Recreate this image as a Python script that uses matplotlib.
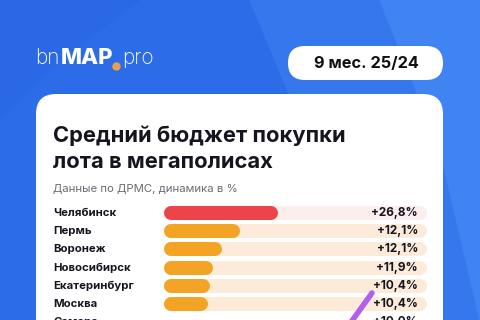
import matplotlib
matplotlib.use('Agg')
import matplotlib.pyplot as plt
from matplotlib.patches import FancyBboxPatch, Polygon
from matplotlib.lines import Line2D
from matplotlib.transforms import blended_transform_factory

plt.rcParams['font.family'] = ['Inter', 'DejaVu Sans']

# data
cities = ['Челябинск', 'Пермь', 'Воронеж', 'Новосибирск', 'Екатеринбург', 'Москва', 'Самара']
change_labels = ['+26,8%', '+12,1%', '+12,1%', '+11,9%', '+10,4%', '+10,4%', '+10,0%']
# bar length as share of the track, as drawn in the picture
bar_share = [0.435, 0.29, 0.22, 0.186, 0.175, 0.166, 0.148]
bar_colors = ['#EC4449'] + ['#F3A425'] * 6
track_colors = ['#FDEEEE'] + ['#FCEBD9'] * 6

title = 'Средний бюджет покупки\nлота в мегаполисах'
subtitle = 'Данные по ДРМС, динамика в %'
period = '9 мес. 25/24'

fig = plt.figure(figsize=(4.8, 3.2), dpi=100)

# background layer in pixel coordinates
bg = fig.add_axes([0, 0, 1, 1], zorder=0)
bg.set_xlim(0, 480)
bg.set_ylim(320, 0)
bg.axis('off')
bg.add_patch(Polygon([(0, 0), (480, 0), (480, 320), (0, 320)], color='#2D6CE9'))
bg.add_patch(Polygon([(250, 0), (480, 0), (480, 320), (330, 320), (300, 120)], color='#3677EE'))
bg.add_patch(Polygon([(380, 0), (480, 0), (480, 320), (440, 150)], color='#3F84F2'))
bg.add_patch(Polygon([(0, 120), (60, 60), (140, 0), (0, 0)], color='#2B68E5'))

# logo
bg.text(35, 58, 'bn', color='white', fontsize=15, fontweight='light', va='center', ha='left')
bg.text(61, 58, 'MAP', color='white', fontsize=16, fontweight='heavy', va='center', ha='left')
bg.text(122, 58, 'pro', color='white', fontsize=15, fontweight='light', va='center', ha='left')
bg.plot([116], [66], marker='o', color='#E9A04C', markersize=5)

# period pill
bg.add_patch(FancyBboxPatch((288, 46), 155, 34, boxstyle='round,pad=0,rounding_size=17',
                            facecolor='white', edgecolor='none'))
bg.text(366, 63, period, color='#111111', fontsize=11.8, fontweight='bold', ha='center', va='center')

# card
bg.add_patch(FancyBboxPatch((36, 94), 407, 260, boxstyle='round,pad=0,rounding_size=20',
                            facecolor='white', edgecolor='none'))
bg.text(53, 149, title, color='#15151F', fontsize=15.8, fontweight='bold',
        ha='left', va='center', linespacing=1.38)
bg.text(53, 189, subtitle, color='#6B6B72', fontsize=8.2, ha='left', va='center')

# bars
ax = fig.add_axes([164 / 480, 0, 263 / 480, 116 / 320], zorder=1)
ax.patch.set_alpha(0)
ax.axis('off')
ax.set_xlim(0, 1)
ax.set_ylim(5.88, -0.5)
r = 7 / 263  # cap radius in axis units
lw = 14 * 72 / 100
rows = range(len(cities))
ax.hlines(rows, r, 1 - r, colors=track_colors, linewidth=lw, capstyle='round')
ax.hlines(rows, r, [s - r for s in bar_share], colors=bar_colors, linewidth=lw, capstyle='round')

lab_tr = blended_transform_factory(bg.transData, ax.transData)
for i, (c, p) in enumerate(zip(cities, change_labels)):
    bg.text(53, i, c, transform=lab_tr, color='#15151F', fontsize=8.2, fontweight='bold',
            ha='left', va='center')
    ax.text(418, i, p, transform=lab_tr, color='#15151F', fontsize=8.5, fontweight='bold',
            ha='right', va='center')

# purple pen stroke
ax.add_line(Line2D([372, 349], [293, 325], transform=bg.transData, color='#B35FEE',
                   linewidth=4, solid_capstyle='round', clip_on=False))

fig.savefig('out.png', dpi=100)
